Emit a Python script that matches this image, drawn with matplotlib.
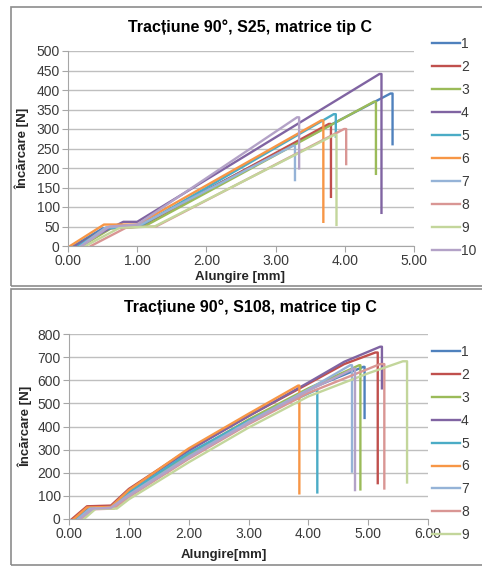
import numpy as np
import matplotlib.pyplot as plt
from matplotlib.patches import Rectangle

plt.rcParams['font.family'] = ['Liberation Sans', 'DejaVu Sans']

# Excel 2010 series colours
colors = ['#4F81BD', '#C0504D', '#9BBB59', '#8064A2', '#4BACC6',
          '#F79646', '#95B3D7', '#D99694', '#C3D69B', '#B3A2C7']

# ---- S25 : elongation [mm] / load [N]
s25_x_1 = [0.08, 0.50, 1.05, 4.66, 4.69, 4.69]
s25_y_1 = [0, 45, 55, 391, 391, 261]
s25_x_2 = [0.12, 0.55, 1.05, 3.77, 3.80, 3.80]
s25_y_2 = [0, 45, 50, 313, 313, 126]
s25_x_3 = [0.20, 0.62, 1.10, 4.42, 4.45, 4.45]
s25_y_3 = [0, 45, 50, 370, 370, 185]
s25_x_4 = [0.10, 0.80, 1.00, 4.50, 4.53, 4.53]
s25_y_4 = [0, 62, 62, 441, 441, 85]
s25_x_5 = [0.15, 0.55, 1.05, 3.84, 3.87, 3.87]
s25_y_5 = [0, 45, 52, 338, 338, 280]
s25_x_6 = [0.03, 0.52, 1.00, 3.66, 3.69, 3.69]
s25_y_6 = [0, 55, 55, 322, 322, 62]
s25_x_7 = [0.18, 0.55, 1.00, 3.25, 3.28, 3.28]
s25_y_7 = [0, 48, 50, 257, 257, 169]
s25_x_8 = [0.33, 0.85, 1.27, 3.99, 4.02, 4.02]
s25_y_8 = [0, 48, 50, 300, 300, 210]
s25_x_9 = [0.25, 0.75, 1.25, 3.85, 3.88, 3.88]
s25_y_9 = [0, 47, 50, 285, 285, 54]
s25_x_10 = [0.20, 0.60, 1.00, 3.31, 3.34, 3.34]
s25_y_10 = [0, 50, 55, 330, 330, 199]

# ---- S108
s108_x_1 = [0.10, 0.35, 0.70, 1.00, 2.00, 3.00, 4.00, 4.92, 4.94, 4.94]
s108_y_1 = [0, 45, 48, 110, 275, 425, 560, 658, 658, 437]
s108_x_2 = [0.05, 0.30, 0.70, 1.00, 2.00, 3.00, 4.00, 4.60, 5.12, 5.16, 5.16]
s108_y_2 = [0, 55, 58, 130, 300, 445, 585, 670, 720, 720, 155]
s108_x_3 = [0.15, 0.35, 0.70, 1.00, 2.00, 3.00, 4.00, 4.85, 4.87, 4.87]
s108_y_3 = [0, 45, 48, 110, 280, 430, 565, 665, 665, 128]
s108_x_4 = [0.10, 0.35, 0.70, 1.00, 2.00, 3.00, 4.00, 4.60, 5.20, 5.23, 5.23]
s108_y_4 = [0, 50, 52, 125, 295, 445, 590, 680, 745, 745, 565]
s108_x_5 = [0.12, 0.35, 0.70, 1.00, 2.00, 3.00, 4.13, 4.15, 4.15]
s108_y_5 = [0, 45, 48, 115, 285, 425, 558, 558, 115]
s108_x_6 = [0.08, 0.30, 0.70, 1.00, 2.00, 3.00, 3.83, 3.85, 3.85]
s108_y_6 = [0, 50, 52, 125, 305, 455, 577, 577, 111]
s108_x_7 = [0.15, 0.35, 0.70, 1.00, 2.00, 3.00, 4.00, 4.70, 4.73, 4.73]
s108_y_7 = [0, 45, 48, 105, 270, 420, 560, 665, 665, 205]
s108_x_8 = [0.20, 0.40, 0.75, 1.00, 2.00, 3.00, 4.00, 5.20, 5.27, 5.27]
s108_y_8 = [0, 42, 45, 95, 260, 410, 545, 670, 670, 132]
s108_x_9 = [0.25, 0.45, 0.80, 1.00, 2.00, 3.00, 4.00, 5.00, 5.58, 5.65, 5.65]
s108_y_9 = [0, 45, 45, 85, 245, 395, 530, 630, 682, 682, 158]
s108_x_10 = [0.18, 0.40, 0.70, 1.00, 2.00, 3.00, 4.00, 4.76, 4.78, 4.78]
s108_y_10 = [0, 45, 48, 100, 265, 415, 555, 650, 650, 125]

s25_x = [s25_x_1, s25_x_2, s25_x_3, s25_x_4, s25_x_5,
         s25_x_6, s25_x_7, s25_x_8, s25_x_9, s25_x_10]
s25_y = [s25_y_1, s25_y_2, s25_y_3, s25_y_4, s25_y_5,
         s25_y_6, s25_y_7, s25_y_8, s25_y_9, s25_y_10]
s108_x = [s108_x_1, s108_x_2, s108_x_3, s108_x_4, s108_x_5,
          s108_x_6, s108_x_7, s108_x_8, s108_x_9, s108_x_10]
s108_y = [s108_y_1, s108_y_2, s108_y_3, s108_y_4, s108_y_5,
          s108_y_6, s108_y_7, s108_y_8, s108_y_9, s108_y_10]

s25_labels = ['1', '2', '3', '4', '5', '6', '7', '8', '9', '10']
s108_labels = ['1', '2', '3', '4', '5', '6', '7', '8', '9']

W, H = 482, 566
fig = plt.figure(figsize=(W/100, H/100), dpi=100)

# chart frames
fig.add_artist(Rectangle((11/W, 1-286/H), 1.0, (286-7)/H, transform=fig.transFigure,
                         fill=False, ec='#8C8C8C', lw=1.2))
fig.add_artist(Rectangle((11/W, 1-565/H), 1.0, (565-289)/H, transform=fig.transFigure,
                         fill=False, ec='#8C8C8C', lw=1.2))

tick_col = '#3A3A3A'
grid_col = '#BFBFBF'


def style(ax, xmax, ymax, ystep):
    ax.set_xlim(0, xmax)
    ax.set_ylim(0, ymax)
    ax.set_xticks(np.arange(0, xmax + 0.01, 1.0))
    ax.set_xticklabels(['%.2f' % v for v in np.arange(0, xmax + 0.01, 1.0)])
    ax.set_yticks(np.arange(0, ymax + 1, ystep))
    ax.yaxis.grid(True, color=grid_col, lw=1)
    ax.set_axisbelow(True)
    for s in ['top', 'right']:
        ax.spines[s].set_visible(False)
    for s in ['left', 'bottom']:
        ax.spines[s].set_color('#A6A6A6')
    ax.tick_params(axis='both', colors='#A6A6A6', labelcolor=tick_col,
                   labelsize=10, length=4, direction='out', pad=2)


# ---- top chart
ax1 = fig.add_axes([68/W, 1-246/H, (414-68)/W, (246-51)/H])
lines = []
for i in range(10):
    l, = ax1.plot(s25_x[i], s25_y[i], color=colors[i], lw=1.7)
    lines.append(l)
style(ax1, 5, 500, 50)
fig.legend(lines, s25_labels, loc='upper left', bbox_to_anchor=(425/W, 1-30/H),
           frameon=False, fontsize=10, handlelength=2.0, handletextpad=0.1,
           labelspacing=0.65, borderpad=0, labelcolor=tick_col)
fig.text(250/W, 1-27/H, 'Tracțiune 90°, S25, matrice tip C', ha='center', va='center',
         fontsize=11.5, fontweight='bold')
fig.text(22/W, 1-148/H, 'Încărcare [N]', rotation=90, ha='center', va='center',
         fontsize=9.5, fontweight='bold', color='#262626')
fig.text(240/W, 1-277/H, 'Alungire [mm]', ha='center', va='center',
         fontsize=9.5, fontweight='bold', color='#262626')

# ---- bottom chart
ax2 = fig.add_axes([69/W, 1-519/H, (428-69)/W, (519-334)/H])
lines = []
for i in range(10):
    l, = ax2.plot(s108_x[i], s108_y[i], color=colors[i], lw=1.7)
    lines.append(l)
style(ax2, 6, 800, 100)
fig.legend(lines[:9], s108_labels, loc='upper left', bbox_to_anchor=(425/W, 1-338/H),
           frameon=False, fontsize=10, handlelength=2.0, handletextpad=0.1,
           labelspacing=0.64, borderpad=0, labelcolor=tick_col)
fig.text(250/W, 1-307/H, 'Tracțiune 90°, S108, matrice tip C', ha='center', va='center',
         fontsize=11.5, fontweight='bold')
fig.text(25/W, 1-426/H, 'Încărcare [N]', rotation=90, ha='center', va='center',
         fontsize=9.5, fontweight='bold', color='#262626')
fig.text(224/W, 1-555/H, 'Alungire[mm]', ha='center', va='center',
         fontsize=9.5, fontweight='bold', color='#262626')

plt.savefig('out.png', dpi=100)
